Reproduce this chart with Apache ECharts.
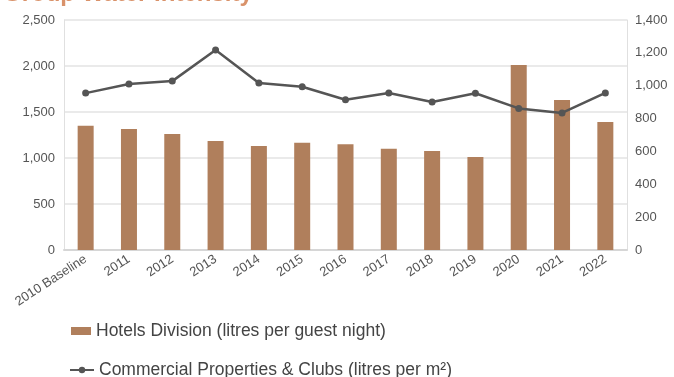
<!DOCTYPE html>
<html><head><meta charset="utf-8">
<script src="https://cdn.jsdelivr.net/npm/echarts@6/dist/echarts.min.js"></script>
<style>html,body{margin:0;padding:0;background:#fff}#c{width:674px;height:377px}</style>
</head><body><div id="c"></div>
<script>
const categories = ['2010 Baseline','2011','2012','2013','2014','2015','2016','2017','2018','2019','2020','2021','2022'];
const hotels = [1350,1315,1260,1185,1130,1165,1150,1100,1075,1010,2010,1630,1390];
const commercial = [955,1010,1028,1217,1016,994,915,956,901,954,862,834,956];
const leftTicks = {min:0,max:2500,interval:500};
const rightTicks = {min:0,max:1400,interval:200};
const hotelsName = 'Hotels Division (litres per guest night)';
const commName = 'Commercial Properties & Clubs (litres per m²)';

const chart = echarts.init(document.getElementById('c'));
const fmt = v => v.toLocaleString('en-US');
chart.setOption({
  animation:false,
  textStyle:{fontFamily:'Liberation Sans, Arial, sans-serif'},
  title:{text:'Group Water Intensity',left:-2,top:-23,textStyle:{color:'#d9926a',fontSize:24,fontWeight:'bold'}},
  grid:{left:64,right:47,top:20,bottom:127},
  legend:[
    {data:[{name:hotelsName,icon:'rect'}],left:66,top:317,itemWidth:20,itemHeight:8,textStyle:{fontSize:17.5,color:'#444'}},
    {data:[commName],left:64,top:356,itemWidth:24,itemHeight:8,textStyle:{fontSize:17.5,color:'#444'}}
  ],
  xAxis:{type:'category',data:categories,
    axisLine:{show:true,lineStyle:{color:'#d6d6d6',width:2}},axisTick:{show:false},
    axisLabel:{interval:0,rotate:33,fontSize:13,color:'#555',margin:8}},
  yAxis:[
    {type:'value',min:leftTicks.min,max:leftTicks.max,interval:leftTicks.interval,
     axisLine:{show:true,lineStyle:{color:'#e0e0e0'}},axisTick:{show:false},
     axisLabel:{fontSize:13,color:'#555',formatter:fmt,margin:9},
     splitLine:{lineStyle:{color:'#e3e3e3',width:1.5}}},
    {type:'value',min:rightTicks.min,max:rightTicks.max,interval:rightTicks.interval,
     axisLine:{show:true,lineStyle:{color:'#e0e0e0'}},axisTick:{show:false},
     axisLabel:{fontSize:13,color:'#555',formatter:fmt,margin:8,padding:[6,0,0,0]},
     splitLine:{show:false}}
  ],
  series:[
    {name:hotelsName,type:'bar',data:hotels,barWidth:16,itemStyle:{color:'#b07f5c'}},
    {name:commName,type:'line',yAxisIndex:1,data:commercial,symbol:'circle',symbolSize:7,
     lineStyle:{color:'#555',width:2.5},itemStyle:{color:'#555'}}
  ]
});
</script></body></html>
